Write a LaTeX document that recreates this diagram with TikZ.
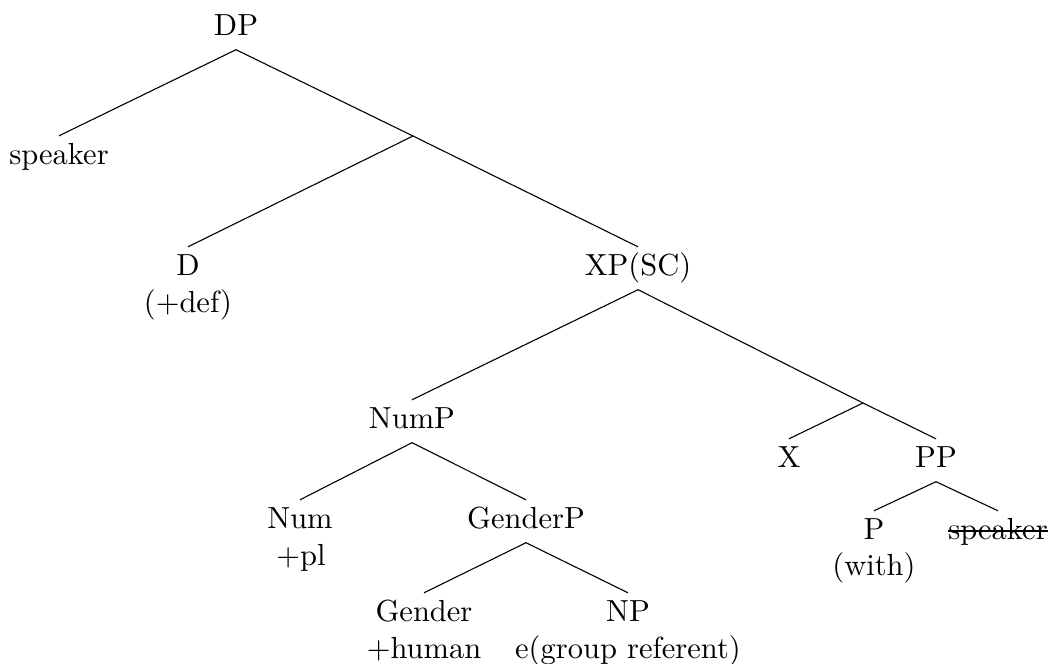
\documentclass[tikz,border=0pt]{standalone}
\usepackage{fontspec}
\setmainfont{lmroman10-regular.otf}
\begin{document}
\begin{tikzpicture}[x=1pt,y=-1pt,
  lab/.style={anchor=base, inner xsep=0pt, inner ysep=7.5pt, text height=20.5pt, text depth=7pt, font=\fontsize{30.5}{37}\selectfont},
  sublab/.style={anchor=base, inner sep=0pt, font=\fontsize{30.5}{37}\selectfont},
  branch/.style={line width=1.1pt},
  strike/.style={line width=1.1pt}]
\useasboundingbox (0,0) rectangle (1053,664);
% nodes
\node[lab] (dp) at (236,35) {DP};
\node[lab] (spk1) at (59,164) {speaker};
\coordinate (b1) at (413,136);
\node[lab] (d) at (188,275) {D};
\node[sublab] (def) at (188,312) {(+def)};
\node[lab] (xp) at (638,275) {XP(SC)};
\node[lab] (nump) at (412,428) {NumP};
\coordinate (b2) at (863,403);
\node[lab] (x) at (789,467) {X};
\node[lab] (pp) at (936,467) {PP};
\node[lab] (num) at (300,528) {Num};
\node[sublab] (pl) at (301,565) {+pl};
\node[lab] (genp) at (526,528) {GenderP};
\node[lab] (p) at (874,539) {P};
\node[sublab] (with) at (874,575) {(with)};
\node[lab] (spk2) at (998,539) {speaker};
\node[lab] (gen) at (424,621) {Gender};
\node[sublab] (hum) at (424,658) {+human};
\node[lab] (np) at (628,621) {NP};
\node[sublab] (grp) at (628,658) {e(group referent)};
% branches
\draw[branch] (dp.south) -- (spk1.north);
\draw[branch] (dp.south) -- (b1) -- (d.north);
\draw[branch] (b1) -- (xp.north);
\draw[branch] (xp.south) -- (nump.north);
\draw[branch] (xp.south) -- (b2) -- (x.north);
\draw[branch] (b2) -- (pp.north);
\draw[branch] (nump.south) -- (num.north);
\draw[branch] (nump.south) -- (genp.north);
\draw[branch] (genp.south) -- (gen.north);
\draw[branch] (genp.south) -- (np.north);
\draw[branch] (pp.south) -- (p.north);
\draw[branch] (pp.south) -- (spk2.north);
% strike-through
\draw[strike] ([yshift=8pt]spk2.base west) -- ([yshift=8pt]spk2.base east);
\end{tikzpicture}
\end{document}
